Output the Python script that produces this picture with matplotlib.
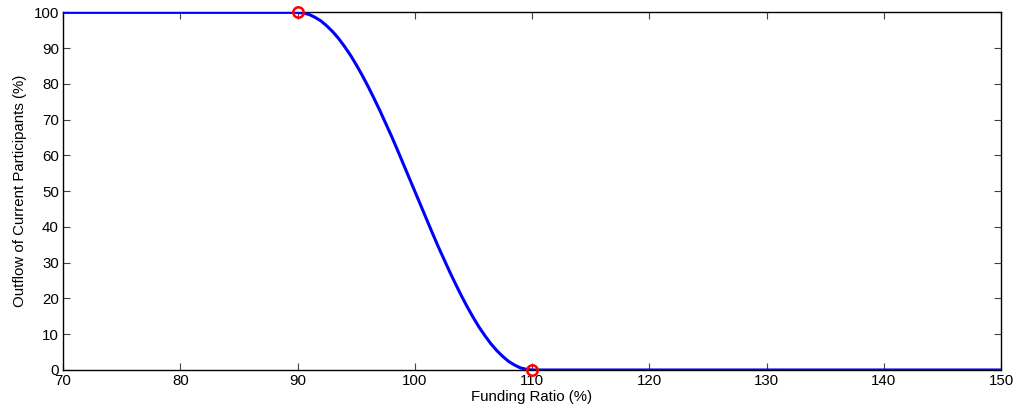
import matplotlib
matplotlib.use("Agg")
import matplotlib.pyplot as plt

# funding ratio (%) and share of current participants flowing out (%)
funding_ratio = [70, 90, 90.5, 91, 91.5, 92, 92.5, 93, 93.5, 94, 94.5, 95, 95.5,
                 96, 96.5, 97, 97.5, 98, 98.5, 99, 99.5, 100, 100.5, 101, 101.5,
                 102, 102.5, 103, 103.5, 104, 104.5, 105, 105.5, 106, 106.5,
                 107, 107.5, 108, 108.5, 109, 109.5, 110, 150]
outflow = [100, 100, 99.8, 99.4, 98.6, 97.6, 96.2, 94.6, 92.7, 90.5, 88.1, 85.4, 82.5,
           79.4, 76.1, 72.7, 69.1, 65.5, 61.7, 57.8, 53.9, 50.0, 46.1, 42.2, 38.3,
           34.5, 30.9, 27.3, 23.9, 20.6, 17.5, 14.6, 11.9, 9.5, 7.3,
           5.4, 3.8, 2.4, 1.4, 0.6, 0.2, 0, 0]

# kink points of the curve
kink_x = [90, 110]
kink_y = [100, 0]

x_ticks = list(range(70, 151, 10))
y_ticks = list(range(0, 101, 10))

plt.rcParams["font.family"] = "Liberation Sans"
plt.rcParams["font.size"] = 10.8

fig = plt.figure(figsize=(10.13, 4.12), dpi=100)
ax = fig.add_axes([0.0622, 0.102, 0.926, 0.868])

ax.plot(funding_ratio, outflow, color="#0000ff", linewidth=2.2, zorder=3,
        solid_joinstyle="round")
ax.plot(kink_x, kink_y, linestyle="none", marker="o", markersize=7.5,
        markerfacecolor="none", markeredgecolor="#ff0000",
        markeredgewidth=1.8, zorder=4, clip_on=False)

ax.set_xlim(70, 150)
ax.set_ylim(0, 100)
ax.set_xticks(x_ticks)
ax.set_yticks(y_ticks)
ax.tick_params(direction="in", length=5, width=0.8, color="#444444",
               top=True, right=True, labelsize=10.8, pad=3)

for side in ax.spines.values():
    side.set_linewidth(1.0)
    side.set_color("black")

ax.set_xlabel("Funding Ratio (%)", labelpad=1)
ax.set_ylabel("Outflow of Current Participants (%)", labelpad=5)

plt.savefig("out.png", dpi=100)
